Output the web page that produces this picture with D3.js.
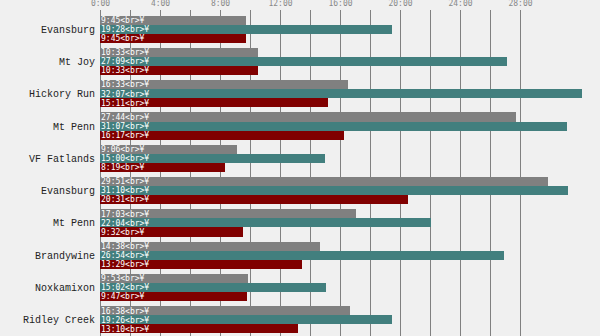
<!DOCTYPE html>
<html><head><meta charset="utf-8">
<script src="https://cdn.jsdelivr.net/npm/d3@7"></script>
<style>html,body{margin:0;padding:0;background:#f0f0f0;}svg{display:block;}</style>
</head><body>
<svg id="chart" width="600" height="336"></svg>
<script>
const categories = ["Evansburg","Mt Joy","Hickory Run","Mt Penn","VF Fatlands","Evansburg","Mt Penn","Brandywine","Noxkamixon","Ridley Creek"];
const seriesA = ["9:45","10:33","16:33","27:44","9:06","29:51","17:03","14:38","9:53","16:38"];
const seriesB = ["19:28","27:09","32:07","31:07","15:00","31:10","22:04","26:54","15:02","19:26"];
const seriesC = ["9:45","10:33","15:11","16:17","8:19","20:31","9:32","13:29","9:47","13:10"];
const seriesColors = ["#808080","#427f7e","#800000"];
const gridTicks = [0,2,4,6,8,10,12,14,16,18,20,22,24,26,28];
const labelTicks = [0,4,8,12,16,20,24,28];
const suffix = "<br>¥";

const toMin = s => { const [m, sec] = s.split(":").map(Number); return m + sec/60; };
const fmt = m => Math.floor(m) + ":00";

const svg = d3.select("#chart");
const x = d3.scaleLinear().domain([0, 32]).range([100, 580]);
const y = d3.scaleBand().domain(d3.range(categories.length)).range([13, 336]).paddingInner(0.16).paddingOuter(0.08);
const sub = d3.scaleBand().domain([0,1,2]).range([0, y.bandwidth()]);

svg.append("rect").attr("width",600).attr("height",336).attr("fill","#f0f0f0");

// gridlines
svg.append("g").selectAll("line").data(gridTicks).join("line")
  .attr("x1", d => x(d)).attr("x2", d => x(d))
  .attr("y1", 10).attr("y2", 336)
  .attr("stroke", "#808080").attr("stroke-width", 1)
  .attr("shape-rendering","crispEdges");

// axis labels
const axis = d3.axisTop(x).tickValues(labelTicks).tickFormat(fmt).tickSize(0);
const ag = svg.append("g").attr("transform","translate(0,9)").call(axis);
ag.select(".domain").remove();
ag.selectAll("text").attr("fill","#888").attr("font-family","'DejaVu Sans Mono', monospace").attr("font-size","8px").attr("dy","0");

const series = [seriesA, seriesB, seriesC];
const groups = svg.append("g").selectAll("g").data(categories).join("g")
  .attr("transform", (d,i) => `translate(0,${y(i)})`);

groups.each(function(cat, i) {
  const g = d3.select(this);
  series.forEach((s, k) => {
    const v = toMin(s[i]);
    g.append("rect")
      .attr("x", x(0)).attr("y", sub(k))
      .attr("width", x(v) - x(0)).attr("height", sub.bandwidth())
      .attr("fill", seriesColors[k])
      .attr("shape-rendering","crispEdges");
    g.append("text")
      .attr("x", x(0) + 1).attr("y", sub(k) + sub.bandwidth()/2)
      .attr("dy","0.35em")
      .attr("fill","#fff")
      .attr("font-family","'DejaVu Sans Mono', monospace")
      .attr("font-size","8px")
      .text(s[i] + suffix);
  });
  g.append("text")
    .attr("x", 95).attr("y", y.bandwidth()/2)
    .attr("dy","0.35em")
    .attr("text-anchor","end")
    .attr("fill","#222")
    .attr("font-family","'Liberation Mono', monospace")
    .attr("font-size","10px")
    .text(cat);
});
</script>
</body></html>
